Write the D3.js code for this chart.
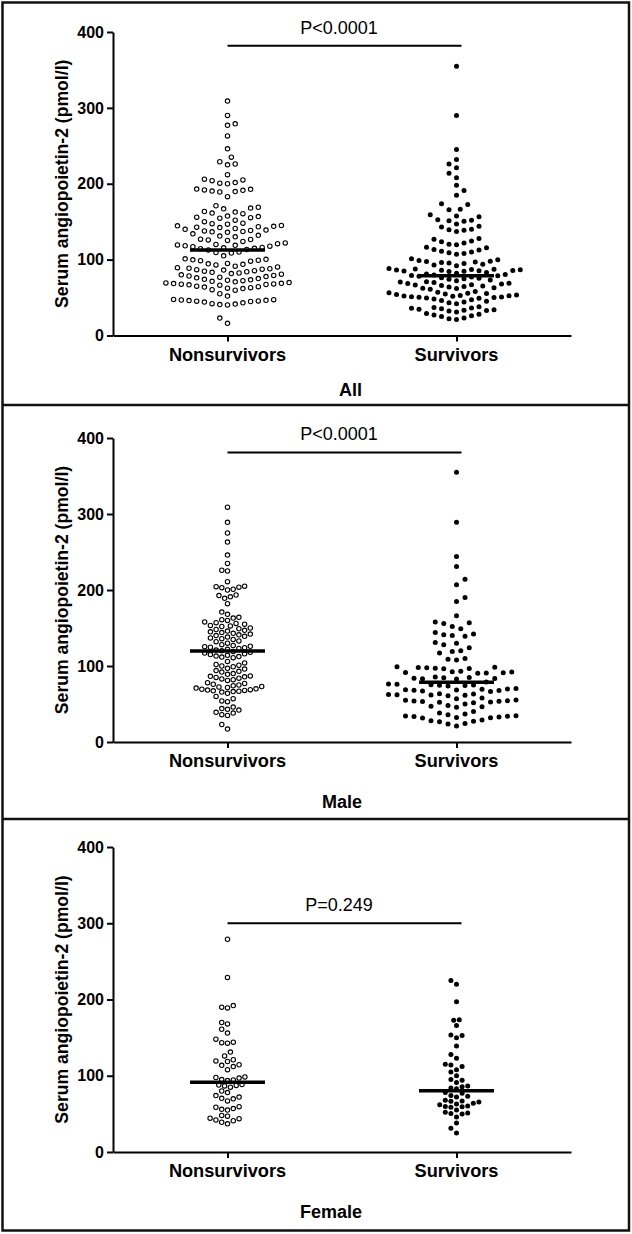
<!DOCTYPE html>
<html><head><meta charset="utf-8">
<script src="https://cdn.jsdelivr.net/npm/d3@7"></script>
<style>body{margin:0;background:#fff} svg{display:block}</style>
</head><body>
<svg id="chart" width="632" height="1234"></svg>
<script>
// ---------- data ----------
const categories = ["Nonsurvivors", "Survivors"];
const panelLabels = ["All", "Male", "Female"];
const pValues = ["P<0.0001", "P<0.0001", "P=0.249"];
const sigBarLevel = [382, 381, 300];
const yTicks = [0, 100, 200, 300, 400];
const yTitle = "Serum angiopoietin-2 (pmol/l)";
const medianNonsurvivors = [112.6, 119.7, 91.4];
const medianSurvivors = [78.8, 78.5, 80.4];

const allNonsurvivors = [309, 290, 279, 277, 263, 246, 235, 229, 226, 225, 212, 206, 205, 204, 201.5, 200.8, 200, 193, 192.6, 191.9, 191.3, 190.4, 189.7, 189.1, 183, 171, 169, 168, 167, 163.4, 162.7, 161.3, 160.6, 157.4, 156.8, 156, 155.3, 154.6, 152, 150, 148, 147.4, 146.7, 145, 144.5, 143.9, 143.3, 142.8, 142.2, 141, 140, 139, 138.4, 137.8, 137.2, 136.6, 136, 134, 132, 131, 130, 127, 126.5, 125.9, 125.3, 124, 122, 121, 120, 119.4, 118.8, 118.3, 117.7, 117, 116, 115.5, 114.9, 114.3, 113.4, 112.8, 110, 109.4, 108.7, 105, 101, 100.4, 99.8, 99.2, 98.6, 98, 95, 94.4, 93.8, 93, 91.4, 90.4, 89.4, 88.6, 88, 87.4, 86.8, 86.2, 85.5, 84.8, 84, 83.2, 82.4, 81.6, 80.8, 80, 79.2, 78.4, 77.6, 76.8, 76, 75, 74, 73.4, 72.8, 72.2, 71.4, 70.8, 69.8, 69.3, 68.8, 68.4, 68, 67.6, 67.2, 66.8, 66.3, 65, 64.4, 63.8, 63, 62.4, 61.8, 60.4, 59.8, 55, 52, 47.6, 47.2, 46.8, 46.4, 46, 45.6, 45.2, 44.8, 44, 43, 42, 41.4, 40.8, 40.2, 23, 16];
const allSurvivors = [355, 290, 245, 232, 226, 221, 214, 208, 198, 191, 185, 173.5, 172.6, 166.4, 165.6, 159, 157.4, 156.6, 152.4, 151.8, 151.2, 150.6, 147, 144, 143, 140, 139.4, 138.6, 137, 128, 127, 124.4, 123.6, 122, 120.4, 119.6, 116.4, 115.6, 113.4, 112.6, 111, 110, 109, 108, 107, 101, 100, 99, 98, 97.4, 96.8, 96.2, 95.6, 95, 94, 93, 92, 88.4, 87.8, 87.4, 87, 86.6, 86.2, 85.9, 85.6, 85.3, 85, 84.7, 84.3, 83, 82, 81, 80.4, 79.8, 79.2, 78.6, 78, 77, 76, 75.4, 74.8, 74, 73, 72, 71, 70.4, 69.8, 69, 68.4, 67.8, 67, 66.4, 65.8, 65.2, 64.6, 64, 63, 62.4, 61.8, 61, 58, 57, 56.4, 55.8, 55.2, 54.6, 54, 53.4, 52.8, 52.4, 52, 51.6, 51.2, 50.8, 50.4, 50, 49.4, 49, 48, 47, 46, 45, 44, 43, 42, 38, 37, 36.4, 35.8, 35.2, 34.6, 34, 33.4, 32.8, 32.2, 31, 29, 28, 27, 26, 25, 23, 22, 21];
const maleNonsurvivors = [309, 289, 275, 263, 246, 235, 226, 225, 211, 205, 204.4, 203.7, 203, 201, 200, 193.4, 192.6, 191, 189, 182, 171, 168, 164, 163, 161, 160, 158, 157, 156, 155, 153.4, 152.7, 152, 150, 149, 148, 147, 146, 145, 144, 143, 142, 141, 140, 139, 138, 137, 136, 135, 133, 132, 130, 128, 127, 126, 125.4, 124.7, 124, 123, 122, 121, 120, 119, 118, 117, 116, 115, 114, 113, 112.4, 111.7, 111, 106, 104, 102, 101, 100, 99, 97, 96, 94, 93, 92, 90, 89, 87, 86.4, 85.7, 85, 84, 83, 82, 81, 78, 77, 76, 75, 74, 73, 72.4, 71.7, 71, 70, 69.4, 68.8, 68.3, 67.8, 67.3, 66.8, 66.3, 65.7, 64, 60, 57, 54, 53, 46, 44, 43, 42, 39, 38, 36, 35, 23, 17];
const maleSurvivors = [355, 289, 244, 231, 214, 207, 190, 185, 166, 158, 157, 156, 152, 149, 144, 142, 141, 140, 139, 131, 130, 128, 124, 120, 119, 117, 110, 109, 108, 99, 98.5, 98, 97.6, 97.2, 96.8, 96.3, 93, 92.5, 92, 91.6, 91.2, 90.8, 90.3, 85.4, 84.9, 84.4, 84, 83.6, 83.2, 82.8, 79, 76.4, 75.9, 75.4, 75, 74.6, 74.2, 73.8, 70.4, 69.8, 69.3, 68.8, 68.4, 68, 67.6, 67.1, 66.6, 63.4, 63, 62.6, 62.2, 61.8, 61.4, 61, 58, 57, 55.4, 54.8, 54.4, 54, 53.6, 53.2, 52.6, 52.2, 51.8, 50, 48, 47, 46.4, 45.8, 40, 38, 37, 36, 34.6, 34.2, 33.8, 33.4, 33, 32.4, 32, 31.6, 29, 28, 27.4, 26.8, 24.4, 23.8, 21];
const femaleNonsurvivors = [279, 229, 192, 190, 189, 170, 168, 161, 156, 148, 144, 143.4, 142.7, 131, 126, 121, 119.4, 118.7, 114.4, 113.7, 112, 108, 98.4, 97.7, 97, 95, 94.4, 93.7, 88.4, 87.8, 87.3, 86.7, 85, 80, 78, 74, 72, 70.4, 69.7, 67, 59.4, 58.7, 57, 56, 55, 48, 47, 44.4, 43.7, 42, 41, 39, 37];
const femaleSurvivors = [225, 220, 197, 173.4, 172.7, 166, 153.4, 152.7, 150, 139, 128, 123, 115, 114, 112, 108, 105, 100, 95, 94, 91, 86.4, 85.7, 84, 83, 78, 77, 74, 73, 72, 68, 67, 66.4, 65.7, 64, 63, 62, 60.4, 59.8, 59.3, 58.7, 55, 52, 51, 50.4, 49.7, 46, 38, 31, 25];

// ---------- layout ----------
const panels = [
  {ns: allNonsurvivors, s: allSurvivors, yBottom: 335.5, yTop: 32, catY: 348, labelY: 396, swarmD: [7.7, 7.5]},
  {ns: maleNonsurvivors, s: maleSurvivors, yBottom: 742, yTop: 438, catY: 754.5, labelY: 808, swarmD: [5.7, 8.5]},
  {ns: femaleNonsurvivors, s: femaleSurvivors, yBottom: 1152, yTop: 847, catY: 1164.5, labelY: 1218, swarmD: [5.8, 5.6]}
];
const xLeft = 113, xRight = 571;
const FONT = "'Liberation Sans', Arial, Helvetica, sans-serif";

const svg = d3.select("#chart");
svg.append("rect").attr("width", 632).attr("height", 1234).attr("fill", "#fff");

// borders
svg.append("rect").attr("x", 2.5).attr("y", 2.5).attr("width", 626.5).attr("height", 1228)
  .attr("fill", "none").attr("stroke", "#111").attr("stroke-width", 2.5);
[405, 819].forEach(yy => svg.append("line").attr("x1", 2.5).attr("x2", 629).attr("y1", yy).attr("y2", yy)
  .attr("stroke", "#111").attr("stroke-width", 2.5));

function swarm(values, y, d) {
  const step = d / 2;
  const pts = values.map(v => ({v, y: y(v)})).sort((a, b) => a.v - b.v);
  const placed = [];
  pts.forEach((p, i) => {
    let k = 0, found = null;
    while (found === null) {
      const sign = (i % 2 === 0) ? 1 : -1;
      const offs = k === 0 ? [0] : [sign * k * step, -sign * k * step];
      for (const o of offs) {
        let ok = true;
        for (const q of placed) {
          const dx = q.dx - o, dy = q.y - p.y;
          if (dx * dx + dy * dy < d * d) { ok = false; break; }
        }
        if (ok) { found = o; break; }
      }
      k++;
    }
    p.dx = found;
    placed.push(p);
  });
  return placed;
}

panels.forEach((P, pi) => {
  const g = svg.append("g");
  const y = d3.scaleLinear().domain([0, 400]).range([P.yBottom, P.yTop]);
  const x = d3.scalePoint().domain(categories).range([xLeft, xRight]).padding(0.5);

  // y axis
  const ya = g.append("g").attr("transform", `translate(${xLeft},0)`)
    .call(d3.axisLeft(y).tickValues(yTicks).tickSize(6).tickSizeOuter(0).tickPadding(3));
  ya.select(".domain").attr("stroke", "#000").attr("stroke-width", 2);
  ya.selectAll(".tick line").attr("stroke", "#000").attr("stroke-width", 2);
  ya.selectAll(".tick text").attr("font-family", FONT).attr("font-weight", "bold")
    .attr("font-size", 16).attr("fill", "#000");

  // x axis
  const xa = g.append("g").attr("transform", `translate(0,${P.yBottom})`)
    .call(d3.axisBottom(x).tickSize(6).tickSizeOuter(0).tickPadding(0));
  xa.select(".domain").attr("stroke", "#000").attr("stroke-width", 2);
  xa.selectAll(".tick line").attr("stroke", "#000").attr("stroke-width", 2);
  xa.selectAll(".tick text").remove();
  g.selectAll(".cat").data(categories).enter().append("text")
    .attr("x", d => x(d)).attr("y", P.catY).attr("dy", "0.71em")
    .attr("text-anchor", "middle").attr("font-family", FONT).attr("font-weight", "bold")
    .attr("font-size", 18.2).text(d => d);

  // y title
  g.append("text").attr("transform", `translate(68,${(P.yBottom + P.yTop) / 2}) rotate(-90)`)
    .attr("text-anchor", "middle").attr("font-family", FONT).attr("font-weight", "bold")
    .attr("font-size", 17.6).text(yTitle);

  // panel label
  g.append("text").attr("x", 362).attr("y", P.labelY).attr("text-anchor", "end")
    .attr("font-family", FONT).attr("font-weight", "bold").attr("font-size", 18).text(panelLabels[pi]);

  // significance bar
  const by = y(sigBarLevel[pi]);
  g.append("line").attr("x1", x(categories[0])).attr("x2", x(categories[1]) + 5)
    .attr("y1", by).attr("y2", by).attr("stroke", "#000").attr("stroke-width", 2);
  g.append("text").attr("x", (x(categories[0]) + x(categories[1])) / 2 - 3).attr("y", by - 12)
    .attr("text-anchor", "middle").attr("font-family", FONT).attr("font-size", 18).text(pValues[pi]);

  // points
  const nsPts = swarm(P.ns, y, P.swarmD[0]);
  const sPts = swarm(P.s, y, P.swarmD[1]);
  g.selectAll(".ns").data(nsPts).enter().append("circle")
    .attr("cx", d => x(categories[0]) + d.dx).attr("cy", d => d.y).attr("r", 2.2)
    .attr("fill", "#fff").attr("stroke", "#000").attr("stroke-width", 1.1);
  g.selectAll(".sv").data(sPts).enter().append("circle")
    .attr("cx", d => x(categories[1]) + d.dx).attr("cy", d => d.y).attr("r", 2.5)
    .attr("fill", "#000");

  // medians
  const meds = [medianNonsurvivors[pi], medianSurvivors[pi]];
  g.selectAll(".med").data(meds).enter().append("line")
    .attr("x1", (d, i) => x(categories[i]) - 37.5).attr("x2", (d, i) => x(categories[i]) + 37.5)
    .attr("y1", d => y(d)).attr("y2", d => y(d)).attr("stroke", "#000").attr("stroke-width", 3.5);
});
</script>
</body></html>
